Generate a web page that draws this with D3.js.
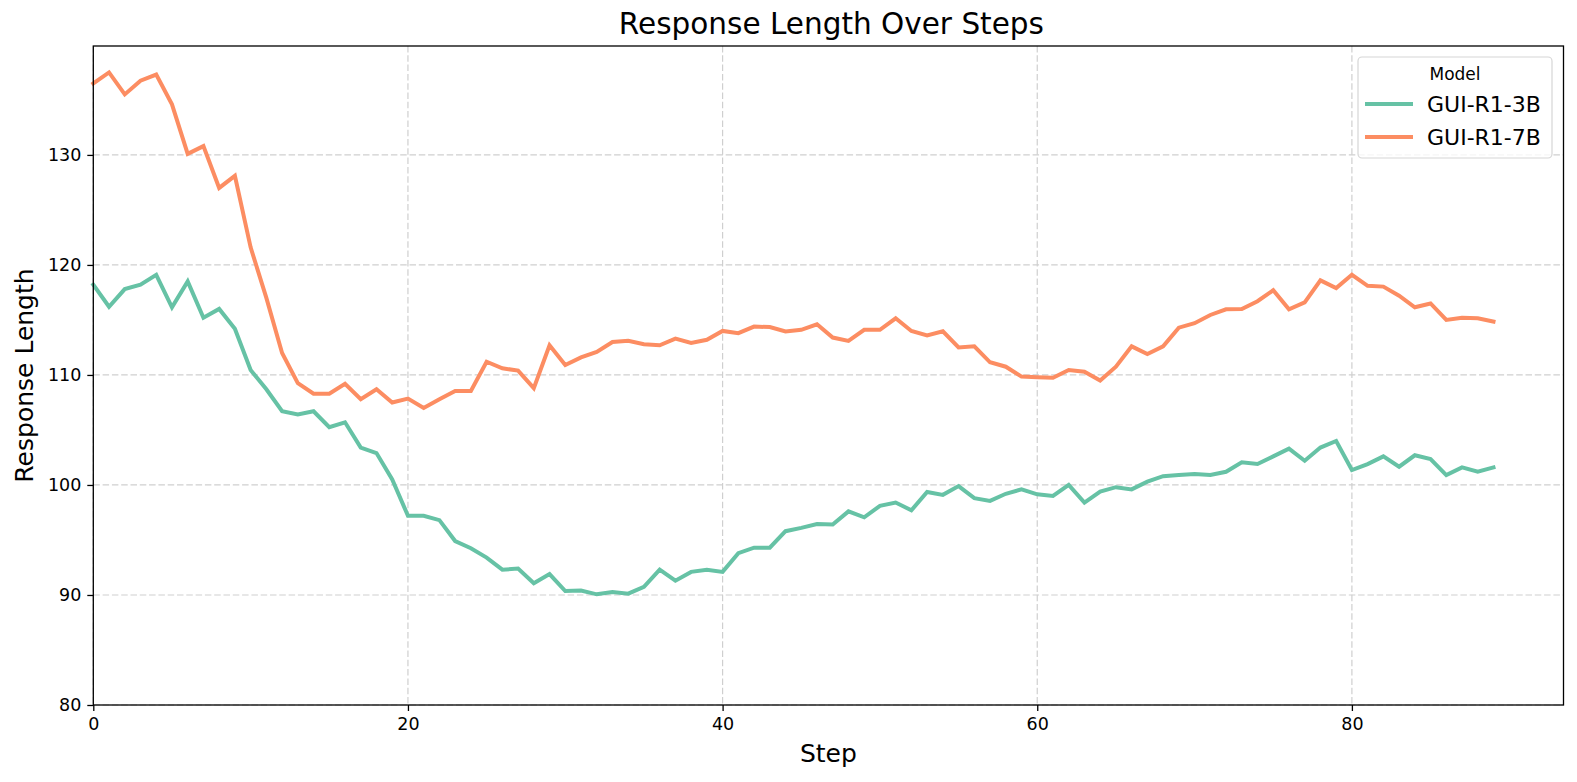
<!DOCTYPE html>
<html>
<head>
<meta charset="utf-8">
<script src="https://cdn.jsdelivr.net/npm/d3@7"></script>
<style>
  html, body { margin: 0; padding: 0; background: #ffffff; }
  svg { display: block; font-family: "DejaVu Sans", sans-serif; }
</style>
</head>
<body>
<svg id="chart" width="1577" height="782"></svg>
<script>
// ---- data ----
const seriesNames = ["GUI-R1-3B", "GUI-R1-7B"];
const seriesColors = ["#66c2a5", "#fc8d62"];
const gui3b = [
  118.2,116.2,117.8,118.2,119.1,116.15,118.5,115.2,116.0,114.2,
  110.45,108.7,106.7,106.4,106.7,105.25,105.7,103.4,102.9,100.5,
  97.2,97.2,96.8,94.9,94.25,93.4,92.3,92.4,91.06,91.9,
  90.36,90.4,90.06,90.27,90.12,90.75,92.3,91.3,92.1,92.3,
  92.1,93.8,94.3,94.3,95.8,96.1,96.45,96.4,97.6,97.06,
  98.1,98.4,97.7,99.36,99.1,99.9,98.8,98.55,99.2,99.6,
  99.15,99.0,100.0,98.4,99.4,99.8,99.6,100.3,100.8,100.9,
  101.0,100.9,101.2,102.06,101.9,102.6,103.3,102.2,103.4,104.0,
  101.36,101.9,102.6,101.66,102.7,102.36,100.9,101.6,101.2,101.6
];
const gui7b = [
  136.5,137.5,135.5,136.75,137.3,134.6,130.1,130.8,127.0,128.1,
  121.6,117.0,112.0,109.25,108.3,108.3,109.2,107.8,108.7,107.5,
  107.85,107.0,107.8,108.55,108.55,111.2,110.6,110.4,108.8,112.7,
  110.9,111.6,112.1,113.0,113.1,112.8,112.7,113.3,112.9,113.2,
  114.0,113.8,114.4,114.35,113.95,114.1,114.6,113.4,113.1,114.1,
  114.1,115.15,114.0,113.6,113.97,112.5,112.6,111.15,110.75,109.85,
  109.8,109.75,110.45,110.3,109.5,110.75,112.6,111.9,112.6,114.3,
  114.7,115.45,115.97,116.0,116.7,117.7,115.97,116.6,118.6,117.9,
  119.1,118.1,118.03,117.2,116.15,116.5,115.0,115.2,115.15,114.85
];
const xTicks = [0, 20, 40, 60, 80];
const yTicks = [80, 90, 100, 110, 120, 130];
const titleText = "Response Length Over Steps";
const xLabel = "Step";
const yLabel = "Response Length";
const legendTitle = "Model";

// ---- layout ----
const svg = d3.select("#chart");
const L = 93.3, R = 1563.5, T = 46, B = 705;
const x = d3.scaleLinear().domain([0, 93.45]).range([L, R]);
const y = d3.scaleLinear().domain([80, 139.9]).range([B, T]);

// grid
const grid = svg.append("g");
grid.selectAll("line.gx").data(xTicks).join("line")
  .attr("x1", d => x(d)).attr("x2", d => x(d)).attr("y1", T).attr("y2", B)
  .attr("stroke", "#cfcfcf").attr("stroke-width", 1.2).attr("stroke-dasharray", "6.5,2.8");
grid.selectAll("line.gy").data(yTicks).join("line")
  .attr("x1", L).attr("x2", R).attr("y1", d => y(d)).attr("y2", d => y(d))
  .attr("stroke", "#cfcfcf").attr("stroke-width", 1.2).attr("stroke-dasharray", "6.5,2.8");

// lines
const line = d3.line().x((d, i) => x(i)).y(d => y(d));
[gui3b, gui7b].forEach((s, k) => {
  svg.append("path").datum(s).attr("d", line)
    .attr("fill", "none").attr("stroke", seriesColors[k])
    .attr("stroke-width", 4).attr("stroke-linejoin", "miter").attr("stroke-linecap", "square");
});

// axes
const xAxis = d3.axisBottom(x).tickValues(xTicks).tickSize(6).tickPadding(7).tickFormat(d3.format("d"));
const yAxis = d3.axisLeft(y).tickValues(yTicks).tickSize(6).tickPadding(6).tickFormat(d3.format("d"));
const gx = svg.append("g").attr("transform", `translate(0,${B})`).call(xAxis);
const gy = svg.append("g").attr("transform", `translate(${L},0)`).call(yAxis);
[gx, gy].forEach(g => {
  g.select(".domain").remove();
  g.selectAll(".tick line").attr("stroke", "#000").attr("stroke-width", 1.3);
  g.selectAll(".tick text").attr("fill", "#000").style("font-size", "17.5px")
    .style("font-family", "DejaVu Sans, sans-serif");
});

// frame
svg.append("rect").attr("x", L).attr("y", T).attr("width", R - L).attr("height", B - T)
  .attr("fill", "none").attr("stroke", "#000").attr("stroke-width", 1.3);

// title & labels
svg.append("text").attr("x", (L + R) / 2 + 3).attr("y", 34).attr("text-anchor", "middle")
  .style("font-size", "29.5px").attr("fill", "#000").text(titleText);
svg.append("text").attr("x", (L + R) / 2).attr("y", 762).attr("text-anchor", "middle")
  .style("font-size", "25px").attr("fill", "#000").text(xLabel);
svg.append("text").attr("transform", `translate(33,${(T + B) / 2}) rotate(-90)`)
  .attr("text-anchor", "middle").style("font-size", "25px").attr("fill", "#000").text(yLabel);

// legend
const lg = svg.append("g");
lg.append("rect").attr("x", 1358).attr("y", 57).attr("width", 194).attr("height", 101)
  .attr("rx", 4).attr("fill", "#fff").attr("fill-opacity", 0.8)
  .attr("stroke", "#d6d6d6").attr("stroke-width", 1.2);
lg.append("text").attr("x", 1455).attr("y", 80).attr("text-anchor", "middle")
  .style("font-size", "17px").attr("fill", "#000").text(legendTitle);
seriesNames.forEach((n, k) => {
  const yy = 104 + k * 33;
  lg.append("line").attr("x1", 1365).attr("x2", 1413).attr("y1", yy).attr("y2", yy)
    .attr("stroke", seriesColors[k]).attr("stroke-width", 4);
  lg.append("text").attr("x", 1427).attr("y", yy + 8).style("font-size", "22px")
    .attr("fill", "#000").text(n);
});
</script>
</body>
</html>
